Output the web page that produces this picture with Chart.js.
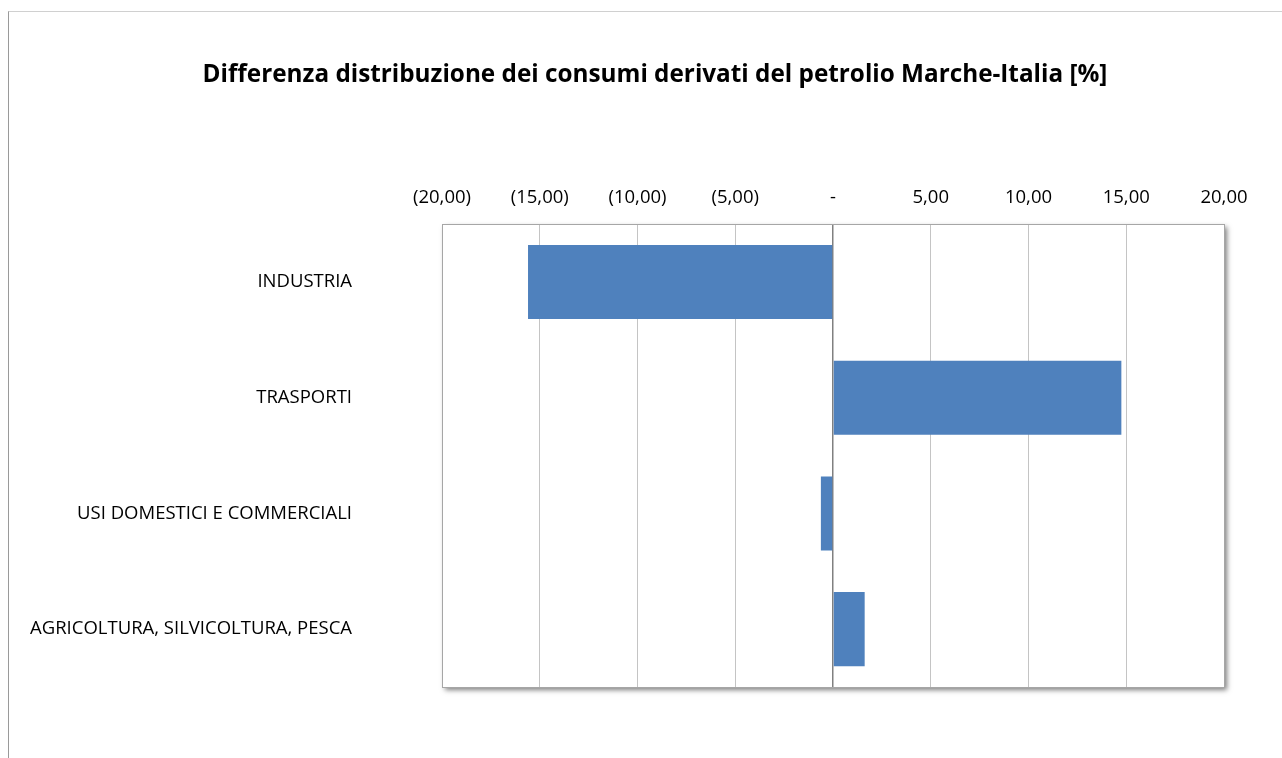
<!DOCTYPE html>
<html>
<head>
<meta charset="utf-8">
<script src="https://cdn.jsdelivr.net/npm/chart.js@4/dist/chart.umd.min.js"></script>
<style>
  html, body { margin: 0; padding: 0; background: #fff; overflow: hidden; }
  #wrap { position: relative; width: 1282px; height: 758px; }
  #frame { position: absolute; left: 8px; top: 11px; width: 1300px; height: 800px;
           border-left: 1px solid #9a9a9a; border-top: 1px solid #d0d0d0; box-sizing: border-box; }
  canvas { position: absolute; left: 0; top: 0; }
</style>
</head>
<body>
<div id="wrap">
  <div id="frame"></div>
  <canvas id="c" width="1282" height="758"></canvas>
</div>
<script>
const categories = ["INDUSTRIA", "TRASPORTI", "USI DOMESTICI E COMMERCIALI", "AGRICOLTURA, SILVICOLTURA, PESCA"];
const values = [-15.6, 14.75, -0.62, 1.62];
const axisMin = -20;
const axisMax = 20;
const axisStep = 5;
const chartTitle = "Differenza distribuzione dei consumi derivati del petrolio Marche-Italia [%]";

function fmt(v) {
  if (Math.abs(v) < 1e-9) return "-";
  const s = Math.abs(v).toFixed(2).replace(".", ",");
  return v < 0 ? "(" + s + ")" : s;
}

const plotFrame = {
  id: "plotFrame",
  beforeDraw(chart) {
    const a = chart.chartArea, ctx = chart.ctx;
    ctx.save();
    ctx.shadowColor = "rgba(0,0,0,0.5)";
    ctx.shadowBlur = 5;
    ctx.shadowOffsetX = 3;
    ctx.shadowOffsetY = 3;
    ctx.fillStyle = "#fff";
    ctx.fillRect(a.left, a.top, a.right - a.left, a.bottom - a.top);
    ctx.restore();
  },
  afterDraw(chart) {
    const a = chart.chartArea, ctx = chart.ctx;
    ctx.save();
    ctx.strokeStyle = "#a6a6a6";
    ctx.lineWidth = 1;
    ctx.strokeRect(Math.round(a.left) + 0.5, Math.round(a.top) + 0.5,
                   Math.round(a.right - a.left), Math.round(a.bottom - a.top));
    ctx.restore();
  }
};

const FONT = "'Open Sans', Lato, sans-serif";

new Chart(document.getElementById("c"), {
  type: "bar",
  data: {
    labels: categories,
    datasets: [{
      data: values,
      backgroundColor: "#4f81bd",
      borderWidth: 0,
      categoryPercentage: 1.0,
      barPercentage: 0.64
    }]
  },
  options: {
    indexAxis: "y",
    responsive: false,
    animation: false,
    layout: { padding: { left: 0, right: -28, top: 0, bottom: 71 } },
    plugins: {
      legend: { display: false },
      tooltip: { enabled: false },
      title: {
        display: true,
        text: chartTitle,
        color: "#000",
        font: { family: FONT, size: 24.3, weight: "bold" },
        padding: { top: 60, bottom: 0 }
      }
    },
    scales: {
      x: {
        position: "top",
        min: axisMin,
        max: axisMax,
        ticks: {
          stepSize: axisStep,
          callback: (v) => fmt(v),
          color: "#000",
          font: { family: FONT, size: 18.5 },
          padding: 15,
          maxRotation: 0
        },
        grid: {
          drawTicks: false,
          color: (ctx) => (ctx.tick && ctx.tick.value === 0) ? "#808080" : "#c4c4c4",
          lineWidth: (ctx) => (ctx.tick && ctx.tick.value === 0) ? 1.5 : 1
        },
        border: { display: false },
        afterFit(scale) { scale.height = 135; }
      },
      y: {
        ticks: {
          color: "#000",
          font: { family: FONT, size: 18.5 },
          padding: 90
        },
        grid: { display: false, drawTicks: false },
        border: { display: false },
        afterFit(scale) { scale.width = 442; scale.paddingTop = 0; scale.paddingBottom = 0; }
      },
      ySpacer: {
        type: "linear",
        position: "right",
        display: true,
        ticks: { display: false },
        grid: { display: false, drawTicks: false },
        border: { display: false },
        afterFit(scale) { scale.width = 86; scale.paddingTop = 0; scale.paddingBottom = 0; }
      }
    }
  },
  plugins: [plotFrame]
});
</script>
</body>
</html>
